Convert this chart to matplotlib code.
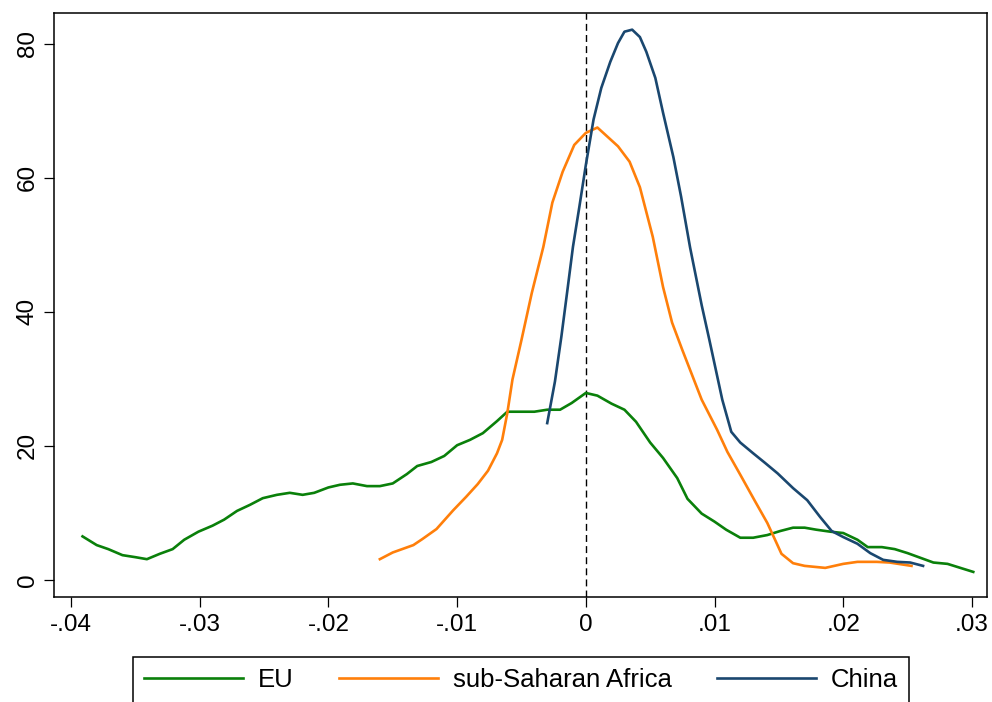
import matplotlib
matplotlib.use('Agg')
import matplotlib.pyplot as plt
from matplotlib.ticker import FuncFormatter

plt.rcParams['font.family'] = ['Liberation Sans', 'DejaVu Sans']

# kernel density estimates, read per group
eu_x = [-0.0391, -0.0380, -0.0371, -0.0360, -0.0350, -0.0341, -0.0331, -0.0321, -0.0312, -0.0301,
        -0.0290, -0.0281, -0.0271, -0.0261, -0.0251, -0.0240, -0.0230, -0.0220, -0.0211, -0.0200,
        -0.0191, -0.0181, -0.0170, -0.0160, -0.0150, -0.0139, -0.0131, -0.0120, -0.0110, -0.0100,
        -0.0090, -0.0080, -0.0069, -0.0061, -0.0050, -0.0040, -0.0030, -0.0020, -0.0011, 0.0000,
        0.0009, 0.0020, 0.0030, 0.0039, 0.0050, 0.0060, 0.0071, 0.0079, 0.0090, 0.0100,
        0.0109, 0.0120, 0.0130, 0.0141, 0.0151, 0.0161, 0.0170, 0.0179, 0.0190, 0.0200,
        0.0211, 0.0219, 0.0230, 0.0240, 0.0250, 0.0260, 0.0270, 0.0281, 0.0291, 0.0301]
eu_y = [6.5, 5.2, 4.6, 3.7, 3.4, 3.1, 3.9, 4.6, 6.0, 7.2,
        8.1, 9.0, 10.3, 11.2, 12.2, 12.7, 13.0, 12.7, 13.0, 13.8,
        14.2, 14.4, 14.0, 14.0, 14.4, 15.8, 17.0, 17.6, 18.5, 20.1,
        20.9, 21.9, 23.7, 25.1, 25.1, 25.1, 25.4, 25.4, 26.4, 27.9,
        27.5, 26.3, 25.4, 23.6, 20.5, 18.2, 15.2, 12.1, 9.9, 8.7,
        7.5, 6.3, 6.3, 6.7, 7.3, 7.8, 7.8, 7.5, 7.2, 7.0,
        6.0, 4.9, 4.9, 4.6, 4.0, 3.3, 2.6, 2.4, 1.8, 1.2]

ssa_x = [-0.0160, -0.0150, -0.0134, -0.0127, -0.0116, -0.0103, -0.0093, -0.0084, -0.0076, -0.0069,
         -0.0065, -0.0061, -0.0057, -0.0050, -0.0042, -0.0033, -0.0026, -0.0018, -0.0009, 0.0000,
         0.0009, 0.0025, 0.0034, 0.0042, 0.0052, 0.0060, 0.0067, 0.0075, 0.0090, 0.0102,
         0.0110, 0.0120, 0.0131, 0.0141, 0.0147, 0.0152, 0.0161, 0.0170, 0.0186, 0.0200,
         0.0211, 0.0226, 0.0236, 0.0253]
ssa_y = [3.1, 4.1, 5.2, 6.1, 7.6, 10.4, 12.4, 14.3, 16.3, 18.9,
         20.9, 24.9, 29.9, 35.8, 42.8, 49.7, 56.3, 60.9, 64.9, 66.7,
         67.5, 64.7, 62.4, 58.6, 51.2, 43.7, 38.4, 34.3, 26.9, 22.4,
         19.1, 15.7, 11.9, 8.5, 6.0, 3.9, 2.5, 2.1, 1.8, 2.4,
         2.7, 2.7, 2.6, 2.1]

chn_x = [-0.0030, -0.0024, -0.0019, -0.0014, -0.0010, -0.0005, 0.0000, 0.0006, 0.0012, 0.0019,
         0.0025, 0.0030, 0.0036, 0.0042, 0.0047, 0.0054, 0.0060, 0.0068, 0.0074, 0.0081,
         0.0090, 0.0096, 0.0106, 0.0113, 0.0120, 0.0130, 0.0139, 0.0149, 0.0161, 0.0172,
         0.0182, 0.0191, 0.0200, 0.0211, 0.0221, 0.0231, 0.0242, 0.0252, 0.0262]
chn_y = [23.4, 29.6, 36.3, 43.7, 49.7, 55.7, 61.9, 68.7, 73.4, 77.3,
         80.1, 81.8, 82.1, 81.0, 78.8, 74.9, 69.7, 63.1, 57.2, 49.6,
         41.0, 35.8, 26.9, 22.1, 20.5, 18.9, 17.5, 15.9, 13.7, 11.9,
         9.4, 7.3, 6.4, 5.4, 4.0, 3.0, 2.7, 2.6, 2.1]

xticks = [-0.04, -0.03, -0.02, -0.01, 0, 0.01, 0.02, 0.03]
yticks = [0, 20, 40, 60, 80]

##############################################################################

fig = plt.figure(figsize=(9.92, 7.02), dpi=100)
ax = fig.add_axes([0.0544, 0.1496, 0.9406, 0.832])

ax.axvline(0, color='black', lw=1.0, dashes=(5, 3), zorder=1)
l1, = ax.plot(eu_x, eu_y, color='#0a800a', lw=1.9, label='EU', zorder=2)
l2, = ax.plot(ssa_x, ssa_y, color='#ff7f0a', lw=1.9, label='sub-Saharan Africa', zorder=3)
l3, = ax.plot(chn_x, chn_y, color='#1a476f', lw=1.9, label='China', zorder=4)

ax.set_xlim(-0.04132, 0.03117)
ax.set_ylim(-2.54, 84.6)
ax.set_xticks(xticks)
ax.set_yticks(yticks)
ax.xaxis.set_major_formatter(FuncFormatter(
    lambda v, p: '0' if abs(v) < 1e-9 else f'{v:.2f}'.replace('0.', '.')))
ax.tick_params(axis='both', direction='out', length=7, width=0.9,
               labelsize=17.5, pad=5)
ax.tick_params(axis='y', labelrotation=90, pad=4)
for lab in ax.get_yticklabels():
    lab.set_va('center')
for s in ax.spines.values():
    s.set_linewidth(1.1)

leg = fig.legend(handles=[l1, l2, l3], loc='upper center', ncol=3,
                 bbox_to_anchor=(521 / 992, 1 - 657 / 702),
                 fontsize=18.5, frameon=True, fancybox=False,
                 edgecolor='black', framealpha=1,
                 handlelength=3.85, handletextpad=0.6, columnspacing=1.75,
                 borderpad=0.43, borderaxespad=0)
leg.get_frame().set_linewidth(1.1)

fig.savefig('out.png', dpi=100)
